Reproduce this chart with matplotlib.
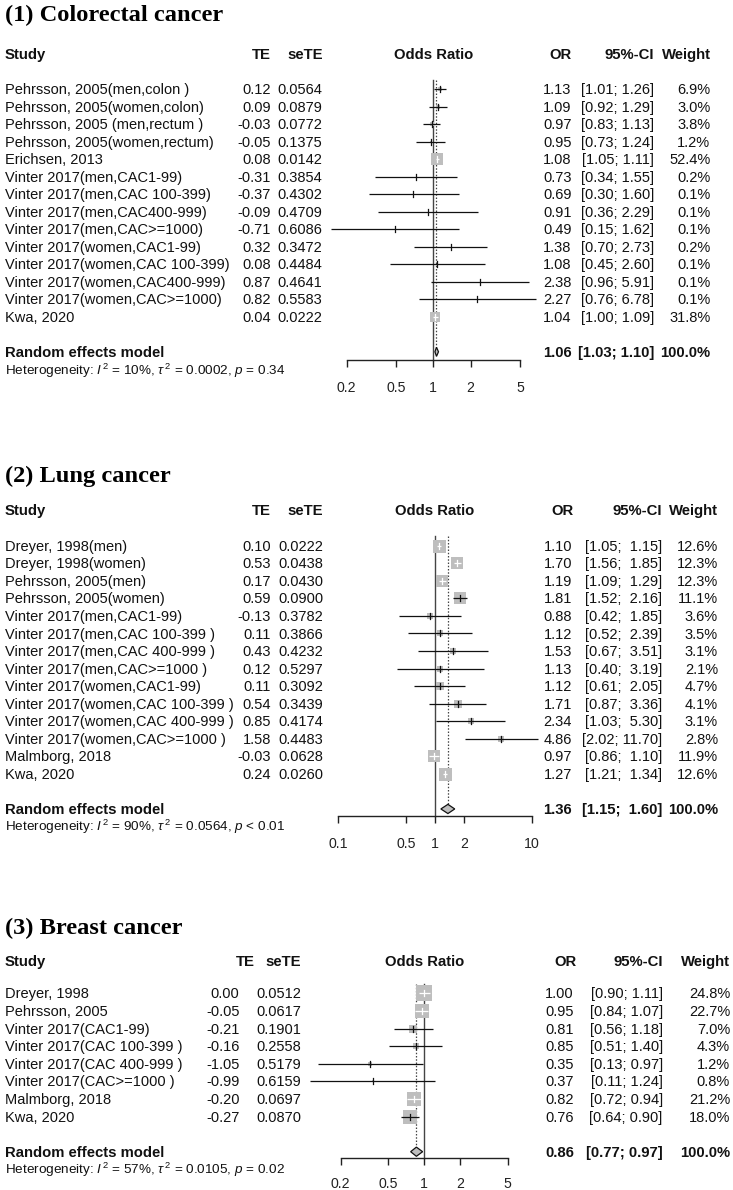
import matplotlib
matplotlib.use("Agg")
import matplotlib.pyplot as plt
import numpy as np
from matplotlib.patches import Polygon

plt.rcParams['font.family'] = ['Liberation Sans', 'DejaVu Sans']
plt.rcParams['mathtext.fontset'] = 'custom'
plt.rcParams['mathtext.rm'] = 'Liberation Sans'
plt.rcParams['mathtext.it'] = 'Liberation Sans:italic'
plt.rcParams['mathtext.bf'] = 'Liberation Sans:bold'

# ---------------- data ----------------
title1 = "(1) Colorectal cancer"
studies1 = ["Pehrsson, 2005(men,colon )", "Pehrsson, 2005(women,colon)",
            "Pehrsson, 2005 (men,rectum )", "Pehrsson, 2005(women,rectum)",
            "Erichsen, 2013", "Vinter 2017(men,CAC1-99)", "Vinter 2017(men,CAC 100-399)",
            "Vinter 2017(men,CAC400-999)", "Vinter 2017(men,CAC>=1000)",
            "Vinter 2017(women,CAC1-99)", "Vinter 2017(women,CAC 100-399)",
            "Vinter 2017(women,CAC400-999)", "Vinter 2017(women,CAC>=1000)", "Kwa, 2020"]
te1 = [0.12, 0.09, -0.03, -0.05, 0.08, -0.31, -0.37, -0.09, -0.71, 0.32, 0.08, 0.87, 0.82, 0.04]
se1 = [0.0564, 0.0879, 0.0772, 0.1375, 0.0142, 0.3854, 0.4302, 0.4709, 0.6086, 0.3472,
       0.4484, 0.4641, 0.5583, 0.0222]
or1 = [1.13, 1.09, 0.97, 0.95, 1.08, 0.73, 0.69, 0.91, 0.49, 1.38, 1.08, 2.38, 2.27, 1.04]
lo1 = [1.01, 0.92, 0.83, 0.73, 1.05, 0.34, 0.30, 0.36, 0.15, 0.70, 0.45, 0.96, 0.76, 1.00]
hi1 = [1.26, 1.29, 1.13, 1.24, 1.11, 1.55, 1.60, 2.29, 1.62, 2.73, 2.60, 5.91, 6.78, 1.09]
w1 = [6.9, 3.0, 3.8, 1.2, 52.4, 0.2, 0.1, 0.1, 0.1, 0.2, 0.1, 0.1, 0.1, 31.8]
pooled1 = (1.06, 1.03, 1.10)
het1 = ("10%", "0.0002", "= 0.34")
ticks1 = [0.2, 0.5, 1, 2, 5]
ticklabels1 = ["0.2", "0.5", "1", "2", "5"]

title2 = "(2) Lung cancer"
studies2 = ["Dreyer, 1998(men)", "Dreyer, 1998(women)", "Pehrsson, 2005(men)",
            "Pehrsson, 2005(women)", "Vinter 2017(men,CAC1-99)", "Vinter 2017(men,CAC 100-399 )",
            "Vinter 2017(men,CAC 400-999 )", "Vinter 2017(men,CAC>=1000 )",
            "Vinter 2017(women,CAC1-99)", "Vinter 2017(women,CAC 100-399 )",
            "Vinter 2017(women,CAC 400-999 )", "Vinter 2017(women,CAC>=1000 )",
            "Malmborg, 2018", "Kwa, 2020"]
te2 = [0.10, 0.53, 0.17, 0.59, -0.13, 0.11, 0.43, 0.12, 0.11, 0.54, 0.85, 1.58, -0.03, 0.24]
se2 = [0.0222, 0.0438, 0.0430, 0.0900, 0.3782, 0.3866, 0.4232, 0.5297, 0.3092, 0.3439,
       0.4174, 0.4483, 0.0628, 0.0260]
or2 = [1.10, 1.70, 1.19, 1.81, 0.88, 1.12, 1.53, 1.13, 1.12, 1.71, 2.34, 4.86, 0.97, 1.27]
lo2 = [1.05, 1.56, 1.09, 1.52, 0.42, 0.52, 0.67, 0.40, 0.61, 0.87, 1.03, 2.02, 0.86, 1.21]
hi2 = [1.15, 1.85, 1.29, 2.16, 1.85, 2.39, 3.51, 3.19, 2.05, 3.36, 5.30, 11.70, 1.10, 1.34]
w2 = [12.6, 12.3, 12.3, 11.1, 3.6, 3.5, 3.1, 2.1, 4.7, 4.1, 3.1, 2.8, 11.9, 12.6]
pooled2 = (1.36, 1.15, 1.60)
het2 = ("90%", "0.0564", "< 0.01")
ticks2 = [0.1, 0.5, 1, 2, 10]
ticklabels2 = ["0.1", "0.5", "1", "2", "10"]

title3 = "(3) Breast cancer"
studies3 = ["Dreyer, 1998", "Pehrsson, 2005", "Vinter 2017(CAC1-99)", "Vinter 2017(CAC 100-399 )",
            "Vinter 2017(CAC 400-999 )", "Vinter 2017(CAC>=1000 )", "Malmborg, 2018", "Kwa, 2020"]
te3 = [0.00, -0.05, -0.21, -0.16, -1.05, -0.99, -0.20, -0.27]
se3 = [0.0512, 0.0617, 0.1901, 0.2558, 0.5179, 0.6159, 0.0697, 0.0870]
or3 = [1.00, 0.95, 0.81, 0.85, 0.35, 0.37, 0.82, 0.76]
lo3 = [0.90, 0.84, 0.56, 0.51, 0.13, 0.11, 0.72, 0.64]
hi3 = [1.11, 1.07, 1.18, 1.40, 0.97, 1.24, 0.94, 0.90]
w3 = [24.8, 22.7, 7.0, 4.3, 1.2, 0.8, 21.2, 18.0]
pooled3 = (0.86, 0.77, 0.97)
het3 = ("57%", "0.0105", "= 0.02")
ticks3 = [0.2, 0.5, 1, 2, 5]
ticklabels3 = ["0.2", "0.5", "1", "2", "5"]

# ---------------- layout (pixels) ----------------
W, H = 733, 1190
layouts = [
    dict(title_base=21, header_y=54.3, row0=89.3, dy=17.5, axis_y=360, het_y=370, lab_y=386.7,
         ax_x0=346.7, ax_x1=520.0, te_r=271, te_hr=271, se_r=322.6, or_r=571.5, or_hr=572,
         ci_r=654, w_r=710.5, box=12.6),
    dict(title_base=482, header_y=510, row0=545.7, dy=17.55, axis_y=816, het_y=826, lab_y=843.3,
         ax_x0=338.3, ax_x1=531.7, te_r=271, te_hr=271, se_r=323.5, or_r=572, or_hr=574,
         ci_r=662, w_r=718, box=13.0),
    dict(title_base=934, header_y=960.7, row0=993.3, dy=17.6, axis_y=1157.5, het_y=1169.3,
         lab_y=1183.3, ax_x0=340.7, ax_x1=507.7, te_r=239.4, te_hr=254.8, se_r=301.5, or_r=574,
         or_hr=576.7, ci_r=662.7, w_r=730, box=15.5),
]

FS = 10.5
FSB = 10.7
BASE = 5.1
GRAY = "#BEBEBE"
TXT = "#111111"

fig = plt.figure(figsize=(W / 100, H / 100), dpi=100)
bg = fig.add_axes([0, 0, 1, 1])
bg.set_xlim(0, W)
bg.set_ylim(H, 0)
bg.axis("off")


def t(x, y, s, **kw):
    kw.setdefault("fontsize", FSB if kw.get("fontweight") == "bold" else FS)
    kw.setdefault("color", TXT)
    bg.text(x, y + BASE, s, va="baseline", **kw)


def draw_panel(title, studies, te, se, orv, lo, hi, w, pooled, het, ticks, ticklabels, L):
    n = len(studies)
    rows = [L["row0"] + i * L["dy"] for i in range(n)]
    rand_y = L["row0"] + (n + 1) * L["dy"]
    top_y = L["row0"] - 0.55 * L["dy"]

    bg.text(4.7, L["title_base"], title, fontfamily="Liberation Serif", fontweight="bold",
            fontsize=17.6, va="baseline", color="#000000")

    hy = L["header_y"]
    t(4.7, hy, "Study", fontweight="bold")
    t(L["te_hr"], hy, "TE", fontweight="bold", ha="right")
    t(L["se_r"], hy, "seTE", fontweight="bold", ha="right")
    t(L["or_hr"], hy, "OR", fontweight="bold", ha="right")
    t(L["ci_r"], hy, "95%-CI", fontweight="bold", ha="right")
    t(L["w_r"], hy, "Weight", fontweight="bold", ha="right")

    hiw = max(len(f"{v:.2f}") for v in list(hi) + [pooled[2]])

    def ci_str(a, b):
        return f"[{a:.2f}; {b:{hiw}.2f}]"

    for i in range(n):
        y = rows[i]
        t(4.7, y, studies[i])
        t(L["te_r"], y, f"{te[i]:.2f}", ha="right")
        t(L["se_r"], y, f"{se[i]:.4f}", ha="right")
        t(L["or_r"], y, f"{orv[i]:.2f}", ha="right")
        t(L["ci_r"], y, ci_str(lo[i], hi[i]), ha="right")
        t(L["w_r"], y, f"{w[i]:.1f}%", ha="right")

    ry = rand_y
    t(4.7, ry, "Random effects model", fontweight="bold")
    t(L["or_r"], ry, f"{pooled[0]:.2f}", ha="right", fontweight="bold")
    t(L["ci_r"], ry, ci_str(pooled[1], pooled[2]), ha="right", fontweight="bold")
    t(L["w_r"], ry, "100.0%", ha="right", fontweight="bold")
    bg.text(4.7, L["het_y"] + 4.6,
            r"Heterogeneity: $\mathit{I}^{\,2}$ = " + het[0] + r", $\tau^{\,2}$ = " + het[1]
            + r", $\mathit{p}$ " + het[2],
            fontsize=9.7, va="baseline", color=TXT)

    # forest axes
    y0, y1 = L["header_y"] - 20, L["lab_y"] + 20
    ax = fig.add_axes([L["ax_x0"] / W, 1 - y1 / H, (L["ax_x1"] - L["ax_x0"]) / W, (y1 - y0) / H])
    ax.set_xscale("log")
    ax.set_xlim(ticks[0], ticks[-1])
    ax.set_ylim(y1, y0)
    ax.axis("off")

    ax.text(1, hy + BASE, "Odds Ratio", ha="center", va="baseline", fontsize=FSB,
            fontweight="bold", color=TXT)

    # reference lines
    ax.plot([1, 1], [top_y, L["axis_y"]], color="#444444", lw=1.0, clip_on=False, zorder=1)
    dh = 4.6
    ax.plot([pooled[0], pooled[0]], [top_y, rand_y - dh], color="#444444", lw=0.9,
            ls=(0, (1.2, 1.4)), clip_on=False, zorder=1)

    # axis
    ax.plot([ticks[0], ticks[-1]], [L["axis_y"], L["axis_y"]], color="#222222", lw=1.0,
            clip_on=False)
    ax.vlines(ticks, L["axis_y"], L["axis_y"] + 7, color="#222222", lw=1.0, clip_on=False)
    for tk, tl in zip(ticks, ticklabels):
        ax.text(tk, L["lab_y"] + BASE, tl, ha="center", va="baseline", fontsize=10.2,
                color="#222222")

    # studies
    wmax = max(w)
    fig.canvas.draw()
    for i in range(n):
        y = rows[i]
        side = L["box"] * np.sqrt(w[i] / wmax)
        cx = ax.transData.transform((orv[i], y))[0]
        lx = ax.transData.transform((lo[i], y))[0]
        hx = ax.transData.transform((hi[i], y))[0]
        inside = (lx >= cx - side / 2 - 0.5) and (hx <= cx + side / 2 + 0.5)
        col = "white" if inside else "#111111"
        ax.scatter([orv[i]], [y], marker="s", s=(side * 0.72) ** 2, color=GRAY,
                   linewidths=0, zorder=3, clip_on=False)
        ax.plot([lo[i], hi[i]], [y, y], color=col, lw=0.9, zorder=4, clip_on=False,
                solid_capstyle="butt")
        ax.plot([orv[i], orv[i]], [y - 3, y + 3], color=col, lw=0.9, zorder=4, clip_on=False)

    # diamond
    est, plo, phi = pooled
    dia = Polygon([[plo, rand_y], [est, rand_y - dh], [phi, rand_y], [est, rand_y + dh]],
                  closed=True, facecolor=GRAY, edgecolor="#111111", lw=0.9, zorder=5,
                  clip_on=False)
    ax.add_patch(dia)


draw_panel(title1, studies1, te1, se1, or1, lo1, hi1, w1, pooled1, het1, ticks1, ticklabels1,
           layouts[0])
draw_panel(title2, studies2, te2, se2, or2, lo2, hi2, w2, pooled2, het2, ticks2, ticklabels2,
           layouts[1])
draw_panel(title3, studies3, te3, se3, or3, lo3, hi3, w3, pooled3, het3, ticks3, ticklabels3,
           layouts[2])

fig.savefig("out.png", dpi=100, facecolor="white")
